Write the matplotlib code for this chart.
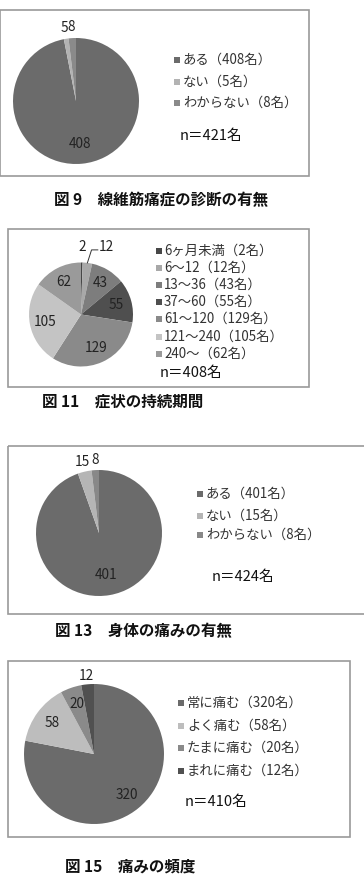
import numpy as np
import matplotlib
matplotlib.use("Agg")
import matplotlib.pyplot as plt
from matplotlib.patches import Rectangle

plt.rcParams['font.family'] = ['Noto Sans CJK JP', 'DejaVu Sans']

# ---------------- data ----------------
p1_labels = ["ある（408名）", "ない（5名）", "わからない（8名）"]
p1_values = [408, 5, 8]
p1_colors = ["#6b6b6b", "#b3b3b3", "#8a8a8a"]
p1_n = "n＝421名"
p1_title = "図 9　線維筋痛症の診断の有無"

p2_labels = ["6ヶ月未満（2名）", "6～12（12名）", "13～36（43名）", "37～60（55名）",
             "61～120（129名）", "121～240（105名）", "240～（62名）"]
p2_values = [2, 12, 43, 55, 129, 105, 62]
p2_colors = ["#474747", "#a8a8a8", "#7d7d7d", "#4f4f4f", "#8a8a8a", "#c4c4c4", "#9a9a9a"]
p2_n = "n＝408名"
p2_title = "図 11　症状の持続期間"

p3_labels = ["ある（401名）", "ない（15名）", "わからない（8名）"]
p3_values = [401, 15, 8]
p3_colors = ["#6b6b6b", "#b5b5b5", "#888888"]
p3_n = "n＝424名"
p3_title = "図 13　身体の痛みの有無"

p4_labels = ["常に痛む（320名）", "よく痛む（58名）", "たまに痛む（20名）", "まれに痛む（12名）"]
p4_values = [320, 58, 20, 12]
p4_colors = ["#6b6b6b", "#bdbdbd", "#8a8a8a", "#505050"]
p4_n = "n＝410名"
p4_title = "図 15　痛みの頻度"

# ---------------- figure ----------------
W, H = 364, 881
fig = plt.figure(figsize=(W / 100, H / 100), dpi=100)
bg = fig.add_axes([0, 0, 1, 1])
bg.set_xlim(0, W)
bg.set_ylim(H, 0)
bg.axis('off')

TXT = "#333333"
LEG_FS = 9.6
NUM_FS = 9.8
CAP_FS = 11.2


def box(x0, y0, x1, y1):
    bg.add_patch(Rectangle((x0, y0), x1 - x0, y1 - y0, fill=False,
                           edgecolor="#9a9a9a", linewidth=1.2))


def legend(x_mark, x_text, ys, labels, colors, size=LEG_FS):
    for y, lab, c in zip(ys, labels, colors):
        bg.add_patch(Rectangle((x_mark - 3, y - 3), 6, 6, facecolor=c, edgecolor='none'))
        bg.text(x_text, y, lab, fontsize=size, color=TXT, va='center', ha='left')


def pie(cx, cy, r, values, colors, inner_d, small=None, skip=()):
    ax = fig.add_axes([(cx - r) / W, 1 - (cy + r) / H, 2 * r / W, 2 * r / H])
    wedges, _ = ax.pie(values, colors=colors, startangle=90, counterclock=False,
                       radius=1.0, wedgeprops=dict(linewidth=0))
    ax.set_xlim(-1, 1)
    ax.set_ylim(-1, 1)
    ax.axis('off')
    total = float(sum(values))
    cum = 0.0
    mids = []
    for v in values:
        mids.append(np.deg2rad((cum + v / 2) / total * 360))
        cum += v
    small = small or {}
    for i, (v, a) in enumerate(zip(values, mids)):
        if i in skip:
            continue
        d = small.get(i, inner_d)
        ax.text(d * np.sin(a), d * np.cos(a), str(v), ha='center', va='center',
                fontsize=NUM_FS, color="#222222", clip_on=False)
    return ax, mids


# Panel 1
box(0, 10, 309, 176)
pie(76, 101, 63, p1_values, p1_colors, 0.68, small={1: 1.17, 2: 1.17})
legend(177, 183, [60, 81.5, 103], p1_labels, p1_colors)
bg.text(180, 136, p1_n, fontsize=10.5, color="#111111", va='center', ha='left')
bg.text(161, 200, p1_title, fontsize=CAP_FS, fontweight='bold', color="#111111",
        ha='center', va='center')

# Panel 2
box(8, 229, 309, 387)
ax2, mids2 = pie(81, 314.5, 52, p2_values, p2_colors, 0.71, small={0: 1.3}, skip=(1,))
a = mids2[1]
ex, ey = np.sin(a), np.cos(a)
ax2.plot([ex, ex + 0.08, ex + 0.2], [ey, ey + 0.25, ey + 0.25], color="#333333",
         linewidth=0.7, clip_on=False)
ax2.text(ex + 0.36, ey + 0.3, str(p2_values[1]), ha='center', va='center',
         fontsize=NUM_FS, color="#222222", clip_on=False)
legend(159, 164, [251, 268, 285, 302, 319, 337, 354], p2_labels, p2_colors)
bg.text(160, 373, p2_n, fontsize=10.5, color="#111111", va='center', ha='left')
bg.text(42, 402, p2_title, fontsize=CAP_FS, fontweight='bold', color="#111111",
        ha='left', va='center')

# Panel 3
box(8, 446, 368, 614)
pie(99, 533, 63, p3_values, p3_colors, 0.68, small={1: 1.16, 2: 1.16})
legend(200, 206, [494, 515.5, 535], p3_labels, p3_colors)
bg.text(212, 577, p3_n, fontsize=10.5, color="#111111", va='center', ha='left')
bg.text(55, 631, p3_title, fontsize=CAP_FS, fontweight='bold', color="#111111",
        ha='left', va='center')

# Panel 4
box(8, 661, 350, 837)
pie(94, 754, 70, p4_values, p4_colors, 0.75, small={3: 1.12})
legend(181, 187, [703, 726, 748, 771], p4_labels, p4_colors)
bg.text(185, 802, p4_n, fontsize=10.5, color="#111111", va='center', ha='left')
bg.text(65, 867, p4_title, fontsize=CAP_FS, fontweight='bold', color="#111111",
        ha='left', va='center')

fig.savefig("out.png", dpi=100, facecolor='white')
